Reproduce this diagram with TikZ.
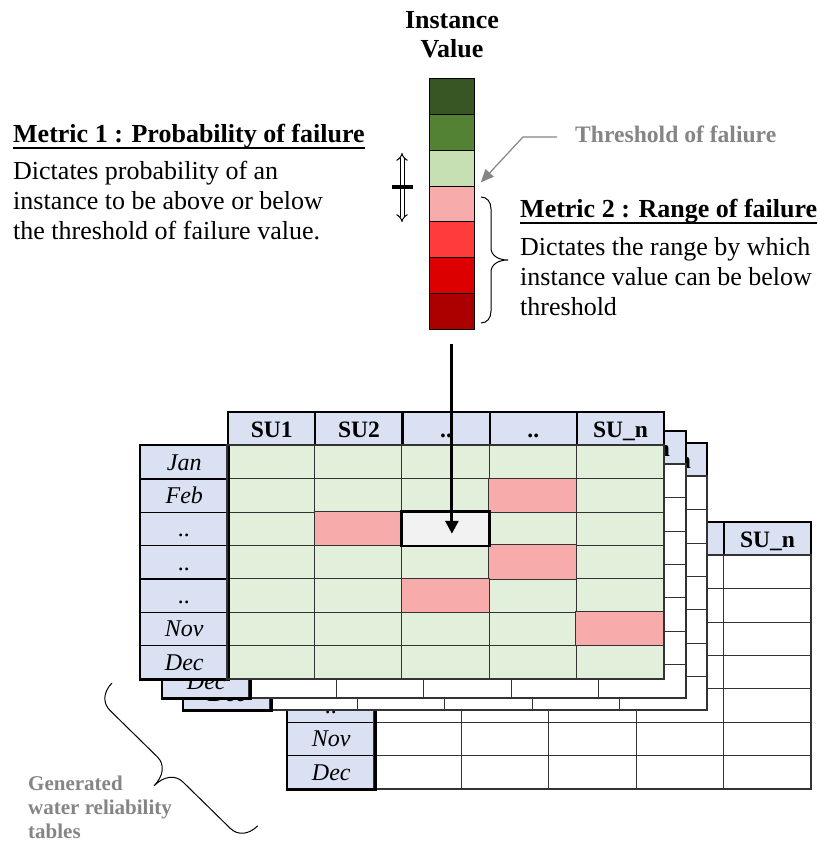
\documentclass[tikz,border=0pt]{standalone}
\usepackage{fontspec}
\setmainfont{Liberation Serif}[BoldFont={Liberation Serif Bold}, ItalicFont={Liberation Serif Italic}, BoldItalicFont={Liberation Serif Bold Italic}]
\usetikzlibrary{arrows.meta,calc}
\definecolor{hdrblue}{HTML}{D9E1F2}
\definecolor{cellgreen}{HTML}{E2EFDA}
\definecolor{cellpink}{HTML}{F8ABAB}
\definecolor{cellgray}{HTML}{F2F2F2}
\definecolor{txtgray}{HTML}{858585}
\definecolor{gridline}{HTML}{333333}
\definecolor{barA}{HTML}{375623}
\definecolor{barB}{HTML}{548235}
\definecolor{barC}{HTML}{C6E0B4}
\definecolor{barD}{HTML}{F8ABAB}
\definecolor{barE}{HTML}{FF3B3B}
\definecolor{barF}{HTML}{DD0000}
\definecolor{barG}{HTML}{AA0000}
\tikzset{
  cellbox/.style={draw=gridline, line width=1pt, minimum width=87.2pt, minimum height=33.3pt, inner sep=0pt, anchor=north west},
  hcell/.style={cellbox, fill=hdrblue, draw=black, line width=2.2pt, minimum height=34pt},
  lcell/.style={cellbox, fill=hdrblue, draw=black, line width=1.4pt},
  dcell/.style={cellbox},
  htext/.style={inner sep=0pt, text height=16pt, text depth=0pt, font=\fontsize{23.5}{24}\selectfont\bfseries},
  ltext/.style={inner sep=0pt, text height=16pt, text depth=0pt, font=\fontsize{24}{24}\selectfont\itshape},
  barcell/.style={draw=black, line width=0.8pt, minimum width=45pt, minimum height=35.86pt, inner sep=0pt, anchor=north west},
  bodytext/.style={inner sep=0pt, anchor=base west, align=left, font=\fontsize{26}{30}\selectfont},
  headtext/.style={inner sep=0pt, anchor=base west, font=\fontsize{26}{30}\selectfont\bfseries},
  graytext/.style={inner sep=0pt, anchor=base west, align=left, text=txtgray},
  bracepath/.style={line width=1pt, black},
}
\newcommand\drawtbl[6]{%
\begin{scope}[shift={(#1,#2)}]
  \foreach \c in {1,...,5}{\node[hcell] (#3-h\c) at ({227+87.2*(\c-1)},411) {};}
  \foreach \r in {1,...,7}{\node[lcell] (#3-l\r) at (140,{445+33.3*(\r-1)}) {};}
  \foreach \r in {1,...,7}{\foreach \c in {1,...,5}{%
    \node[dcell, fill=#4] (#3-d\r\c) at ({227+87.2*(\c-1)},{445+33.3*(\r-1)}) {};}}
  \draw[line width=1.5pt, draw=gridline] (#3-d11.north west) rectangle (#3-d75.south east);
  \draw[line width=2.6pt] (#3-l1.north west) rectangle (#3-l7.south east);
  \foreach \c/\t in {#5}{\node[htext] (#3-ht\c) at (#3-h\c.center) {\t};}
  \foreach \r/\t in {#6}{\node[ltext] (#3-lt\r) at (#3-l\r.center) {\t};}
\end{scope}}
\newcommand\curlybrace[4]{% length, arm, tip, curl
  \draw[bracepath] (0,0) .. controls (0,{0.6*#2}) and ({0.4*#4},#2) .. (#4,#2)
    -- ({#1/2-#4},#2) .. controls ({#1/2-0.4*#4},#2) and ({#1/2},{#2+0.4*(#3-#2)}) .. ({#1/2},#3)
    .. controls ({#1/2},{#2+0.4*(#3-#2)}) and ({#1/2+0.4*#4},#2) .. ({#1/2+#4},#2)
    -- ({#1-#4},#2) .. controls ({#1-0.4*#4},#2) and (#1,{0.6*#2}) .. (#1,0);}
\begin{document}
\begin{tikzpicture}[x=1pt,y=-1pt]
\useasboundingbox[fill=white] (0,0) rectangle (817,842);

% ---- stacked tables (back to front)
\drawtbl{147}{110}{tD}{white}{5/SU\_n}{5/..,6/Nov,7/Dec}
\drawtbl{43}{31}{tC}{white}{5/SU\_n}{7/Dec}
\drawtbl{22}{19}{tB}{white}{5/SU\_n}{7/Dec}
\drawtbl{0}{0}{tA}{cellgreen}{1/SU1,2/SU2,3/..,4/..,5/SU\_n}{1/Jan,2/Feb,3/..,4/..,5/..,6/Nov,7/Dec}
\foreach \p in {24,32,44,53,65}{
  \draw[fill=cellpink, draw=gridline, line width=1pt] (tA-d\p.north west) rectangle (tA-d\p.south east);}
\draw[line width=1.5pt, draw=gridline] (tA-d11.north west) rectangle (tA-d75.south east);
\draw[fill=cellgray, line width=2.6pt] (tA-d33.north west) rectangle (tA-d33.south east);

% ---- colour bar
\foreach \i/\col in {1/barA,2/barB,3/barC,4/barD,5/barE,6/barF,7/barG}{
  \node[barcell, fill=\col] (bar\i) at (429,{78+35.86*(\i-1)}) {};}
\node[inner sep=0pt, anchor=base, align=center, font=\fontsize{26}{29}\selectfont\bfseries] (iv) at (452,58) {Instance\\Value};

% ---- threshold label and arrow
\node[graytext, font=\fontsize{23.6}{28}\selectfont\bfseries] (thr) at (575,143) {Threshold of faliure};
\coordinate (thrbend) at (523,137);
\draw[txtgray, line width=1.2pt, -{Triangle[length=13pt,width=11pt]}]
  ($(thr.base west)+(-18,-6)$) -- (thrbend) -- ($(bar3.south east)+(6,-4)$);

% ---- double arrow with bar
\coordinate (dtop) at (402,153);
\coordinate (dbot) at (402,222);
\draw[double, double distance=3pt, line width=1pt, {Implies}-{Implies}] (dtop) -- (dbot);
\coordinate (tickl) at (392,187);
\coordinate (tickr) at (413,187);
\draw[line width=4pt] (tickl) -- (tickr);

% ---- metric 1
\node[headtext] (m1h) at (13,143) {Metric 1 : Probability of failure};
\draw[line width=1.8pt] ($(m1h.base west)+(0,5)$) -- ($(m1h.base east)+(0,5)$);
\node[bodytext] (m1b) at (13,240) {Dictates probability of an\\instance to be above or below\\the threshold of failure value.};

% ---- metric 2
\node[headtext] (m2h) at (520,218) {Metric 2 : Range of failure};
\draw[line width=1.8pt] ($(m2h.base west)+(0,5)$) -- ($(m2h.base east)+(0,5)$);
\node[bodytext] (m2b) at (520,315) {Dictates the range by which\\instance value can be below\\threshold};

% ---- braces
\begin{scope}[shift={(481,197)}, x={(0pt,-1pt)}, y={(1pt,0pt)}]
  \curlybrace{126}{10}{27}{12}
\end{scope}
\begin{scope}[shift={(112,683)}, x={(0.714pt,-0.700pt)}, y={(-0.700pt,-0.714pt)}]
  \curlybrace{204}{21}{44}{18}
\end{scope}
\node[graytext, font=\fontsize{21}{24}\selectfont\bfseries] (gen) at (28,838) {Generated\\water reliability\\tables};

% ---- arrow from bar into table cell
\coordinate (arrstart) at ($(bar7.south)+(0,14)$);
\draw[line width=3pt, -{Triangle[length=13pt,width=13pt]}] (arrstart) -- ($(arrstart |- tA-d33.center)+(0,5)$);
\end{tikzpicture}
\end{document}
